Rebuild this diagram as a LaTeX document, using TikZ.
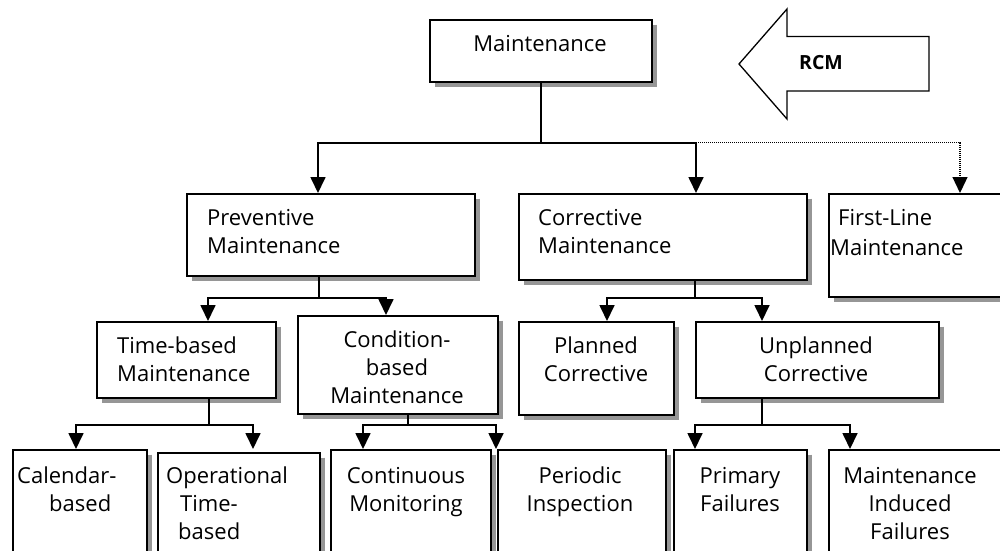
\documentclass[tikz,border=0pt]{standalone}
\usepackage{fontspec}
\setmainfont{Open Sans}
\usetikzlibrary{arrows.meta,calc}
\definecolor{shadowgray}{RGB}{150,150,150}
\newcommand{\mylines}[2]{\begin{tabular}[t]{@{}#1@{}}#2\end{tabular}}
\tikzset{
  box/.style={draw=black, line width=1.8pt, rectangle, inner sep=0pt, anchor=north west},
  shadowline/.style={draw=shadowgray, line width=5.5pt, line cap=butt, line join=miter},
  txt/.style={inner sep=0pt, font=\fontsize{22}{28}\selectfont},
  conn/.style={line width=1.7pt},
  arr/.style={line width=1.7pt, -{Triangle[width=15pt,length=16pt]}},
  dotarr/.style={line width=1.3pt, dash pattern=on 1.2pt off 0.8pt, -{Triangle[width=15pt,length=16pt]}},
}
% #1 left, #2 top, #3 width, #4 height, #5 name
\newcommand{\mkbox}[5]{%
  \draw[shadowline] (#1+#3+2.75,#2+5.5) -- (#1+#3+2.75,#2+#4+2.75) -- (#1+5.5,#2+#4+2.75);
  \node[box, minimum width=#3pt, minimum height=#4pt] (#5) at (#1,#2) {};}
\begin{document}
\begin{tikzpicture}[x=1pt,y=-1pt]
\useasboundingbox (0,0) rectangle (1000,550);
\clip (0,0) -- (1000,0) -- (1000,550) -- (0,550) -- cycle;

% boxes
\mkbox{429}{19}{222}{62}{top}
\mkbox{186}{193}{288}{82}{prev}
\mkbox{518}{193}{288}{86}{corr}
\mkbox{828}{193}{190}{103}{first}
\mkbox{96}{321}{179}{76}{time}
\mkbox{297}{315}{200}{98}{cond}
\mkbox{518}{321}{155}{93}{plan}
\mkbox{695}{321}{243}{76}{unpl}
\mkbox{12}{449}{134}{120}{cal}
\mkbox{157}{452}{162}{120}{oper}
\mkbox{330}{449}{160}{120}{cont}
\mkbox{497}{449}{168}{120}{peri}
\mkbox{673}{449}{133}{120}{prim}
\mkbox{828}{449}{190}{120}{mif}

% texts
\node[txt, anchor=base] (ttop) at (540,51) {Maintenance};
\node[txt, anchor=base west] (tprev) at (207,225) {\mylines{l}{Preventive\\Maintenance}};
\node[txt, anchor=base west] (tcorr) at (538,225) {\mylines{l}{Corrective\\Maintenance}};
\node[txt, anchor=base west] (tfirst) at (830,225) {\mylines{l}{\hspace*{8pt}First-Line\\[2pt]Maintenance}};
\node[txt, anchor=base west] (ttime) at (117,353) {\mylines{l}{Time-based\\Maintenance}};
\node[txt, anchor=base] (tcond) at (397,347) {\mylines{c}{Condition-\\based\\Maintenance}};
\node[txt, anchor=base] (tplan) at (596,353) {\mylines{c}{Planned\\Corrective}};
\node[txt, anchor=base] (tunpl) at (816,353) {\mylines{c}{Unplanned\\Corrective}};
\node[txt, anchor=base west] (tcal) at (17,483) {\mylines{l}{Calendar-\\\hspace*{32pt}based}};
\node[txt, anchor=base west] (toper) at (166,483) {\mylines{l}{Operational\\\hspace*{14pt}Time-\\\hspace*{12pt}based}};
\node[txt, anchor=base] (tcont) at (406,483) {\mylines{c}{Continuous\\Monitoring}};
\node[txt, anchor=base] (tperi) at (580,483) {\mylines{c}{Periodic\\Inspection}};
\node[txt, anchor=base] (tprim) at (740,483) {\mylines{c}{Primary\\Failures}};
\node[txt, anchor=base] (tmif) at (910,483) {\mylines{c}{Maintenance\\Induced\\Failures}};

% RCM arrow
\draw[line width=1.3pt] (739,64) -- (787,9) -- (787,36.5) -- (929,36.5) -- (929,91) -- (787,91) -- (787,119) -- cycle;
\node[inner sep=0pt, font=\fontsize{19.5}{22}\selectfont\bfseries] (rcm) at (821,63) {RCM};

% connectors from Maintenance
\coordinate (j0) at ([yshift=-60pt]top.south);
\draw[conn] (top.south) -- (j0);
\draw[arr] (j0) -| ([xshift=132pt]prev.north west);
\draw[arr] (j0) -| ([xshift=178pt]corr.north west);
\draw[dotarr] ([xshift=178pt]corr.north west |- j0) -| ([xshift=132pt]first.north west);

% Preventive
\coordinate (pj) at ([xshift=133pt,yshift=-21pt]prev.south west);
\draw[conn] ([xshift=133pt]prev.south west) -- (pj);
\draw[arr] (pj) -| ([xshift=112pt]time.north west);
\draw[arr] (pj) -| ([xshift=89pt]cond.north west);

% Corrective
\coordinate (cj) at ([xshift=177pt,yshift=-17pt]corr.south west);
\draw[conn] ([xshift=177pt]corr.south west) -- (cj);
\draw[arr] (cj) -| ([xshift=89pt]plan.north west);
\draw[arr] (cj) -| ([xshift=67pt]unpl.north west);

% Time-based
\coordinate (tj) at ([xshift=113pt,yshift=-26pt]time.south west);
\draw[conn] ([xshift=113pt]time.south west) -- (tj);
\draw[arr] (tj) -| ([xshift=64pt]cal.north west);
\draw[arr] (tj) -| ([xshift=96pt,yshift=3pt]oper.north west);

% Condition-based
\coordinate (dj) at ([xshift=111pt,yshift=-10pt]cond.south west);
\draw[conn] ([xshift=111pt]cond.south west) -- (dj);
\draw[arr] (dj) -| ([xshift=33pt]cont.north west);
\draw[arr] (dj) -| ([xshift=-1pt]peri.north west);

% Unplanned
\coordinate (uj) at ([xshift=67pt,yshift=-26pt]unpl.south west);
\draw[conn] ([xshift=67pt]unpl.south west) -- (uj);
\draw[arr] (uj) -| ([xshift=22pt]prim.north west);
\draw[arr] (uj) -| ([xshift=22pt]mif.north west);
\end{tikzpicture}
\end{document}
